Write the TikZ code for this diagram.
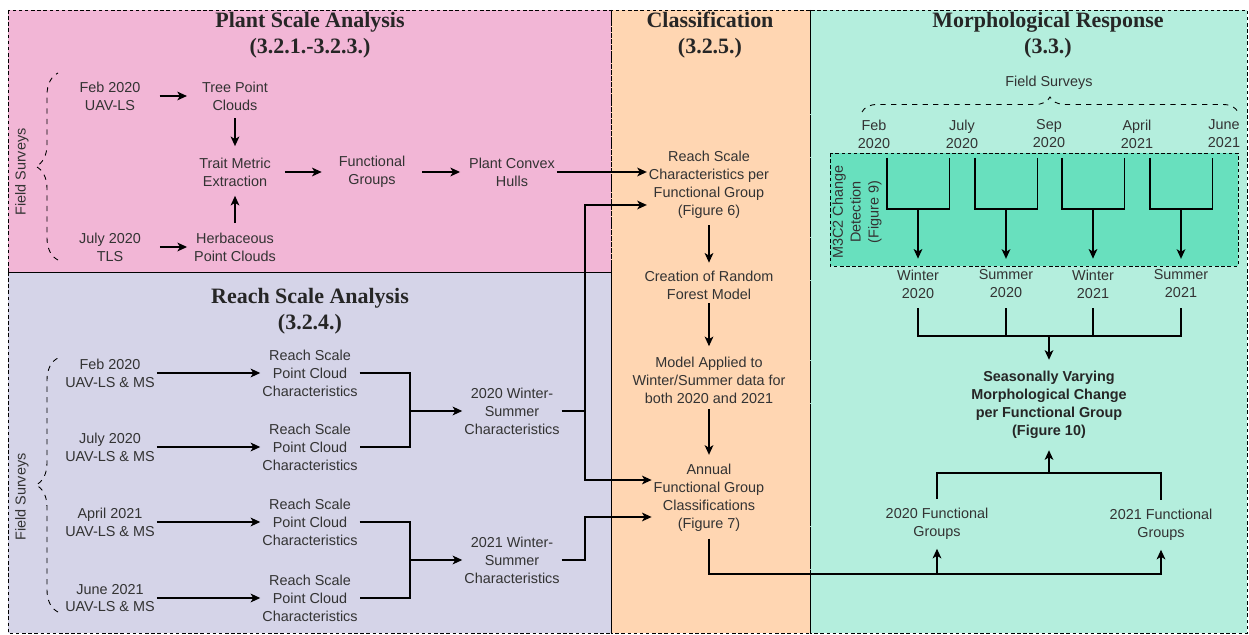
\documentclass[tikz,border=0pt]{standalone}
\usepackage{fontspec}
\setmainfont{Liberation Serif}
\setsansfont{Liberation Sans}
\usetikzlibrary{arrows.meta,decorations.pathreplacing}

\definecolor{plantpink}{RGB}{242,182,214}
\definecolor{reachlav}{RGB}{213,212,232}
\definecolor{classpeach}{RGB}{255,214,178}
\definecolor{morphmint}{RGB}{180,238,221}
\definecolor{m3green}{RGB}{104,224,190}
\definecolor{txtgray}{RGB}{51,51,51}

\tikzset{
	panel/.style={draw=black, dash pattern=on 2pt off 1.5pt, line width=0.5pt},
	lbl/.style={font=\sffamily\fontsize{8.2}{10.2}\selectfont, text=txtgray, align=center, inner sep=1pt},
	ttl/.style={font=\rmfamily\bfseries\fontsize{12.5}{14.7}\selectfont, text=black!85, align=center, inner sep=1pt},
	arr/.style={-{Stealth[length=5.5pt,width=5pt,inset=1.5pt]}, line width=0.7pt},
	lnk/.style={line width=0.7pt},
	brc/.style={dashed, decorate, decoration={brace, amplitude=#1}, line width=0.5pt},
	brc/.default=0.44cm
}

\begin{document}
\begin{tikzpicture}[x=0.02cm, y=-0.02cm]
	\useasboundingbox (0,0) rectangle (1249,635);
	\fill[plantpink] (8,10) rectangle (611,272);
	\fill[reachlav] (8,272) rectangle (611,633);
	\fill[classpeach] (611,10) rectangle (810,633);
	\fill[morphmint] (810,10) rectangle (1247,633);
	\draw[panel] (8,10) rectangle (611,272);
	\draw[panel] (8,272) rectangle (611,633);
	\draw[panel] (611,10) rectangle (810,633);
	\draw[panel] (810,10) rectangle (1247,633);

	\node[ttl] (tplant) at (310,35) {Plant Scale Analysis\\(3.2.1.-3.2.3.)};
	\node[ttl] (treach) at (310,311) {Reach Scale Analysis\\(3.2.4.)};
	\node[ttl] (tclass) at (710,35) {Classification\\(3.2.5.)};
	\node[ttl] (tmorph) at (1048,35) {Morphological Response\\(3.3.)};

	\node[lbl, rotate=90] (fsplant) at (22,172) {Field Surveys};
	\node[lbl, rotate=90] (fsreach) at (22,497) {Field Surveys};
	\draw[brc] (58,260) -- (58,73);
	\draw[brc] (58,612) -- (58,358);

	\node[lbl] (pfeb) at (110,96) {Feb 2020\\UAV-LS};
	\node[lbl] (tree) at (235,96) {Tree Point\\Clouds};
	\node[lbl] (trait) at (235,172) {Trait Metric\\Extraction};
	\node[lbl] (pjul) at (110,247) {July 2020\\TLS};
	\node[lbl] (herb) at (235,247) {Herbaceous\\Point Clouds};
	\node[lbl] (fgrp) at (372,172) {Functional\\Groups};
	\node[lbl] (hull) at (512,172) {Plant Convex\\Hulls};
	\draw[arr, shorten <=0.34cm, shorten >=0.26cm] (pfeb) -- (tree);
	\draw[arr, shorten <=0.34cm, shorten >=0.1cm] (pjul) -- (herb);
	\draw[arr, shorten <=0.12cm, shorten >=0.19cm] (tree) -- (trait);
	\draw[arr, shorten <=0.15cm, shorten >=0.15cm] (herb) -- (trait);
	\draw[arr, shorten <=0.24cm, shorten >=0.3cm] (trait) -- (fgrp);
	\draw[arr, shorten <=0.3cm, shorten >=0.14cm] (fgrp) -- (hull);

	\node[lbl] (rfeb) at (110,373) {Feb 2020\\UAV-LS \& MS};
	\node[lbl] (rjul) at (110,447) {July 2020\\UAV-LS \& MS};
	\node[lbl] (rapr) at (110,522) {April 2021\\UAV-LS \& MS};
	\node[lbl] (rjun) at (110,598) {June 2021\\UAV-LS \& MS};
	\node[lbl] (pcfeb) at (310,373) {Reach Scale\\Point Cloud\\Characteristics};
	\node[lbl] (pcjul) at (310,447) {Reach Scale\\Point Cloud\\Characteristics};
	\node[lbl] (pcapr) at (310,522) {Reach Scale\\Point Cloud\\Characteristics};
	\node[lbl] (pcjun) at (310,598) {Reach Scale\\Point Cloud\\Characteristics};
	\node[lbl] (ws20) at (512,411) {2020 Winter-\\Summer\\Characteristics};
	\node[lbl] (ws21) at (512,560) {2021 Winter-\\Summer\\Characteristics};
	\draw[arr] (rfeb) -- (pcfeb);
	\draw[arr] (rjul) -- (pcjul);
	\draw[arr] (rapr) -- (pcapr);
	\draw[arr] (rjun) -- (pcjun);
	\coordinate (jb) at (410,0);
	\coordinate (sp) at (585,0);
	\draw[lnk] (pcfeb.east) -- (jb |- pcfeb.east) -- (jb |- pcjul.east) -- (pcjul.east);
	\draw[lnk] (pcapr.east) -- (jb |- pcapr.east) -- (jb |- pcjun.east) -- (pcjun.east);
	\draw[arr] (jb |- ws20.west) -- (ws20.west);
	\draw[arr] (jb |- ws21.west) -- (ws21.west);

	\node[lbl] (rschar) at (709,185) {Reach Scale\\Characteristics per\\Functional Group\\(Figure 6)};
	\node[lbl] (rfm) at (709,285) {Creation of Random\\Forest Model};
	\node[lbl] (mapp) at (709,380) {Model Applied to\\Winter/Summer data for\\both 2020 and 2021};
	\node[lbl] (anl) at (709,498) {Annual\\Functional Group\\Classifications\\(Figure 7)};
	\draw[arr, shorten <=0.09cm, shorten >=0.12cm] (rschar) -- (rfm);
	\draw[arr, shorten <=0.04cm, shorten >=0.17cm] (rfm) -- (mapp);
	\draw[arr, shorten <=0.07cm, shorten >=0.15cm] (mapp) -- (anl);
	\draw[arr] (hull.east) -- (hull.east -| rschar.west);
	\draw[arr] (ws20.east) -- (sp |- ws20.east) |- ([yshift=-0.4cm]rschar.west);
	\draw[arr] (sp |- ws20.east) |- ([yshift=0.36cm]anl.west);
	\draw[arr] (ws21.east) -- (sp |- ws21.east) |- ([yshift=-0.38cm]anl.west);

	\node[lbl] (fsmorph) at (1049,83) {Field Surveys};
	\draw[brc=0.3cm] (862,112) -- (1238,112);
	\node[lbl] (dfeb) at (874,134) {Feb\\2020};
	\node[lbl] (djul) at (962,134) {July\\2020};
	\node[lbl] (dsep) at (1049,134) {Sep\\2020};
	\node[lbl] (dapr) at (1137,134) {April\\2021};
	\node[lbl] (djun) at (1224,134) {June\\2021};
	\draw[panel, fill=m3green] (830,153) rectangle (1238,266);
	\node[lbl, rotate=90] (m3c2) at (857,212) {M3C2 Change\\Detection\\(Figure 9)};
	\node[lbl] (swi20) at (918,284) {Winter\\2020};
	\node[lbl] (ssu20) at (1006,284) {Summer\\2020};
	\node[lbl] (swi21) at (1093,284) {Winter\\2021};
	\node[lbl] (ssu21) at (1181,284) {Summer\\2021};
	\coordinate (btop) at (0,158);
	\coordinate (bbot) at (0,209);
	\foreach \s in {swi20,ssu20,swi21,ssu21}{
		\draw[lnk] ([xshift=-0.62cm]\s.north |- btop) |- ([xshift=0.63cm]\s.north |- bbot) -- ([xshift=0.63cm]\s.north |- btop);
		\draw[arr, shorten >=0.18cm] (\s.north |- bbot) -- (\s.north);
	}
	\coordinate (hbar) at (0,336);
	\draw[lnk, shorten <=0.16cm, shorten >=0.16cm] (swi20.south) -- (swi20.south |- hbar) -- (ssu21.south |- hbar) -- (ssu21.south);
	\draw[lnk, shorten <=0.16cm] (ssu20.south) -- (ssu20.south |- hbar);
	\draw[lnk, shorten <=0.16cm] (swi21.south) -- (swi21.south |- hbar);
	\node[lbl, font=\sffamily\bfseries\fontsize{8.2}{10.2}\selectfont, text=black!85] (svc) at (1049,405) {Seasonally Varying\\Morphological Change\\per Functional Group\\(Figure 10)};
	\draw[arr, shorten >=0.19cm] (svc.north |- hbar) -- (svc.north);
	\node[lbl] (fg20) at (937,524) {2020 Functional\\Groups};
	\node[lbl] (fg21) at (1161,525) {2021 Functional\\Groups};
	\coordinate (hbar2) at (0,473);
	\draw[lnk, shorten <=0.14cm, shorten >=0.14cm] (fg20.north) -- (fg20.north |- hbar2) -- (fg21.north |- hbar2) -- (fg21.north);
	\draw[arr, shorten >=0.19cm] (svc.south |- hbar2) -- (svc.south);
	\coordinate (bus) at (0,574);
	\draw[arr, shorten <=0.1cm, shorten >=0.14cm] (anl.south) -- (anl.south |- bus) -| (fg21.south);
	\draw[arr, shorten >=0.14cm] (fg20.south |- bus) -- (fg20.south);
\end{tikzpicture}
\end{document}
